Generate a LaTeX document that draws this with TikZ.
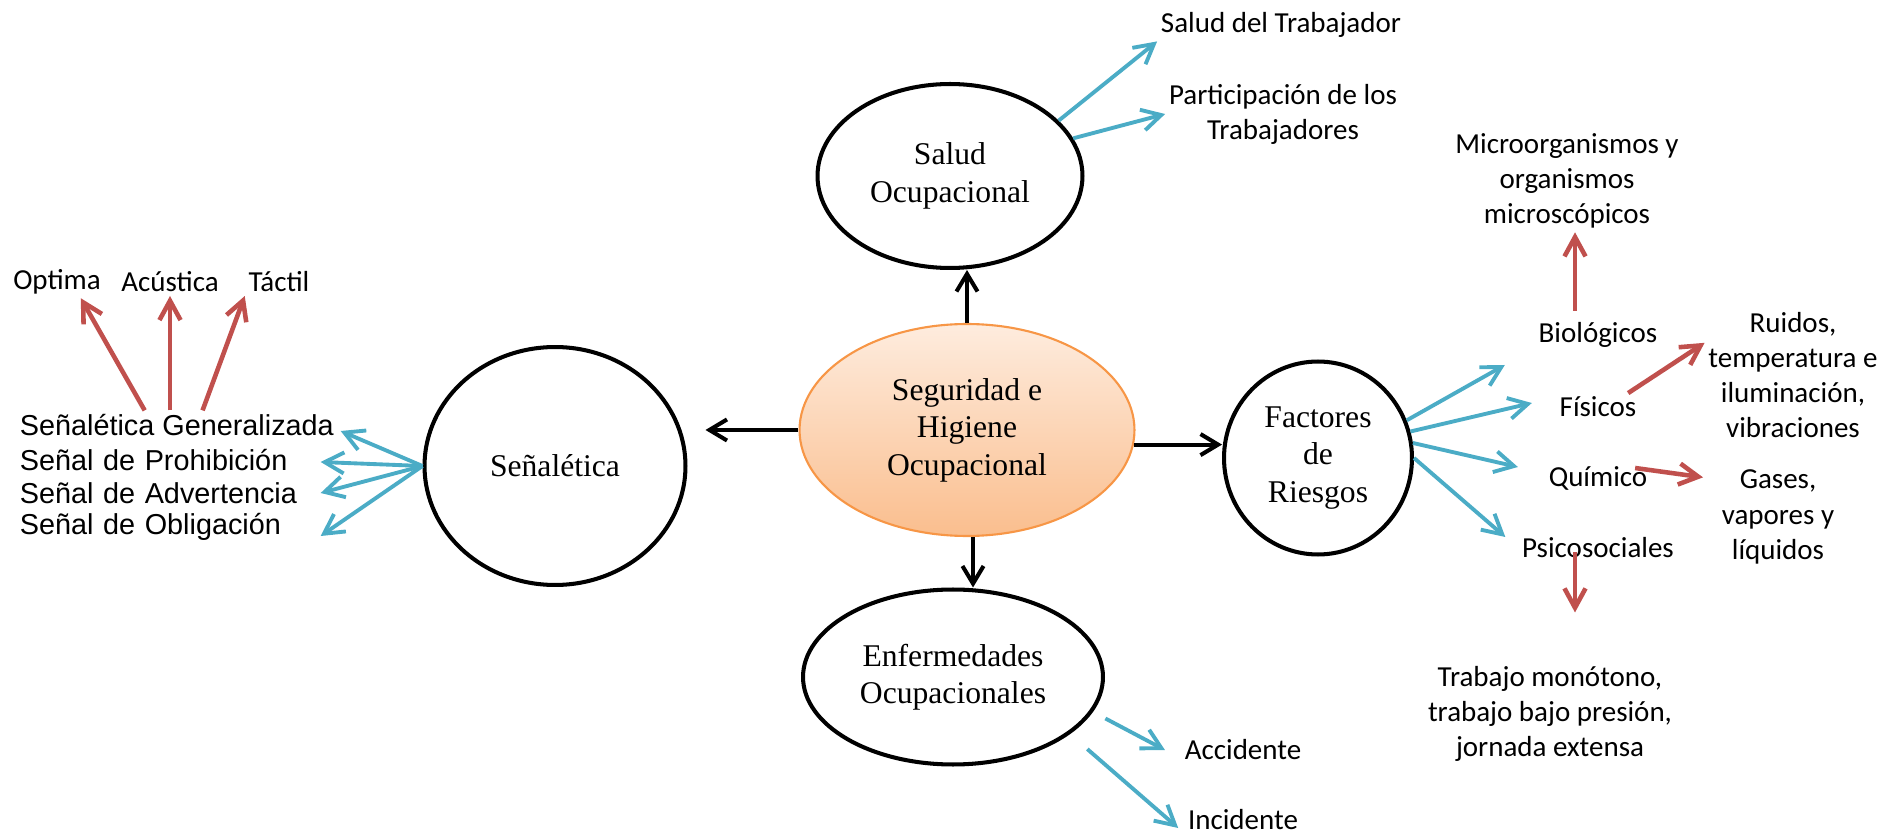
\documentclass[tikz,border=0pt]{standalone}
\usepackage{fontspec}
\setmainfont{Carlito}
\newfontfamily\timesfont{Liberation Serif}
\newfontfamily\arialfont{Liberation Sans}
\usepackage{tikz}
\usetikzlibrary{arrows.meta,positioning,shapes.geometric,calc}
\definecolor{SHborder}{RGB}{247,150,70}
\definecolor{SHtop}{RGB}{254,236,222}
\definecolor{SHbottom}{RGB}{250,190,142}
\definecolor{SHblue}{RGB}{75,172,198}
\definecolor{SHred}{RGB}{192,80,77}

\begin{document}
\begin{tikzpicture}[x=0.02cm, y=-0.02cm, every node/.style={font=\fontsize{16.5}{20}\selectfont, inner sep=2pt}, oval/.style={ellipse,draw=black,line width=2.3pt,inner sep=0pt,align=center,font=\timesfont\fontsize{18}{21.3}\selectfont}, lbl/.style={align=center}, sig/.style={anchor=west,align=left,font=\arialfont\fontsize{16.4}{19.3}\selectfont}, blk/.style={-{Straight Barb[length=10pt,width=12pt]},line width=2.3pt,black}, blu/.style={-{Straight Barb[length=11pt,width=12pt]},line width=2.2pt,SHblue}, rd/.style={-{Straight Barb[length=11pt,width=12pt]},line width=2.6pt,SHred}]
\useasboundingbox (0,0) rectangle (1884,834);
% ovals
\node[oval,draw=SHborder,line width=1.2pt,top color=SHtop,bottom color=SHbottom,minimum width=6.70cm,minimum height=4.24cm] (sho) at (967,430) {Seguridad e\\Higiene\\Ocupacional};
\node[oval,minimum width=5.30cm,minimum height=3.68cm] (salud) at (950,176) {Salud\\Ocupacional};
\node[oval,minimum width=5.22cm,minimum height=4.76cm] (sena) at (555,466) {Señalética};
\node[oval,minimum width=3.76cm,minimum height=3.86cm] (fact) at (1318,458) {Factores\\de\\Riesgos};
\node[oval,minimum width=6.00cm,minimum height=3.50cm] (enf) at (953,677) {Enfermedades\\Ocupacionales};
% labels
\node[lbl] (sdt) at (1281,25) {Salud del Trabajador};
\node[lbl] (part) at (1283,114) {Participación de los\\Trabajadores};
\node[lbl] (micro) at (1567,181) {Microorganismos y\\organismos\\microscópicos};
\node (bio) at (1598,335) {Biológicos};
\node (fis) at (1598,407) {Físicos};
\node (qui) at (1598,478) {Químico};
\node (psi) at (1598,548) {Psicosociales};
\node[lbl] (ruidos) at (1793,375) {Ruidos,\\temperatura e\\iluminación,\\vibraciones};
\node[lbl] (gases) at (1778,517) {Gases,\\vapores y\\líquidos};
\node[lbl] (trab) at (1550,714) {Trabajo monótono,\\trabajo bajo presión,\\jornada extensa};
\node (acc) at (1243,750) {Accidente};
\node (inc) at (1243,820) {Incidente};
\node (opt) at (57,282) {Optima};
\node (acu) at (170,282) {Acústica};
\node (tac) at (279,282) {Táctil};
\node[sig] (l1) at (16,425) {Señalética Generalizada};
\node[sig,text width=5.94cm] (l2) at (16,460) {Señal de Prohibición};
\node[sig,text width=5.94cm] (l3) at (16,493) {Señal de Advertencia};
\node[sig,text width=5.94cm] (l4) at (16,527) {Señal de Obligación};
% main branches
\draw[blk] (sho.north) -- (sho.north |- salud.south);
\draw[blk] (sho.west) -- ($(sho.west -| sena.east)+(18,0)$);
\draw[blk] (sho.-5) -- (sho.-5 -| fact.west);
\draw[blk] ($(sho.south)+(6,0)$) -- ($(sho.south |- enf.north)+(6,0)$);
% blue
\draw[blu] (salud.27) -- (sdt.south west);
\draw[blu] (salud.17) -- (part.west);
\draw[blu] (sena.west) -- ($(l1.east)+(3,6)$);
\draw[blu] (sena.west) -- ($(l2.east)+(0,2)$);
\draw[blu] (sena.west) -- (l3.east);
\draw[blu] (sena.west) -- ($(l4.east)+(0,9)$);
\draw[blu] (fact.23) -- ($(bio.west)+(-30,30)$);
\draw[blu] (fact.16) -- ($(fis.west)+(-24,-4)$);
\draw[blu] (fact.9) -- ($(qui.west)+(-27,-11)$);
\draw[blu] (fact.0) -- ($(psi.west)+(-13,-11)$);
\draw[blu,shorten <=8pt] (enf.-14) -- ($(acc.west)+(-16,0)$);
\draw[blu,shorten <=13pt] (enf.-26) -- ($(inc.west)+(-6,8)$);
% red
\draw[rd] ($(l1.north west)!.40!(l1.north east)$) -- ($(opt.south)!.5!(opt.south east)$);
\draw[rd] (acu.south |- l1.north) -- (acu.south);
\draw[rd] ($(l1.north west)!.58!(l1.north east)$) -- (tac.south west);
\draw[rd] ($(bio.north -| micro.south)+(8,-8)$) -- ($(micro.south)+(8,0)$);
\draw[rd] ($(fis.north east)+(-12,0)$) -- (ruidos.160);
\draw[rd] ($(qui.east)+(-16,-10)$) -- ($(gases.150)+(-15,-5)$);
\draw[rd] ($(psi.south)+(-23,-10)$) -- ($(trab.north)+(25,-50)$);
\end{tikzpicture}
\end{document}
